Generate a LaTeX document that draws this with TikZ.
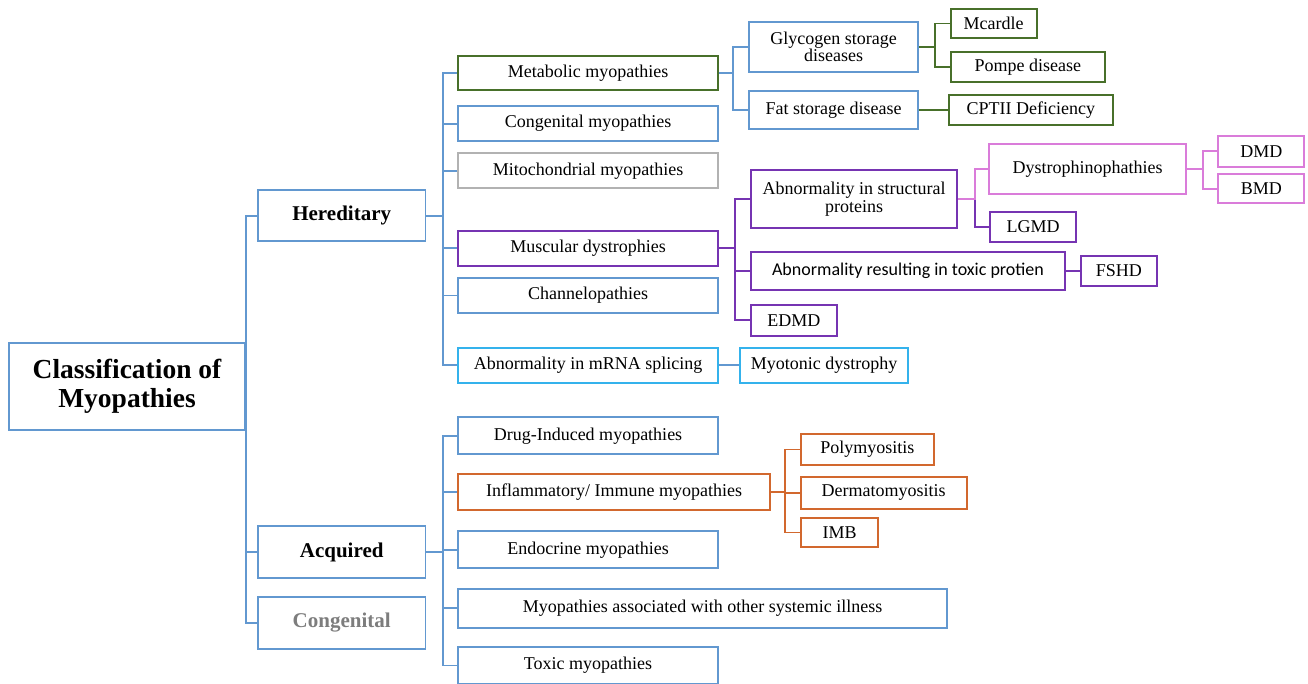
\documentclass[tikz,border=0pt]{standalone}
\usepackage{fontspec}
\setmainfont{Liberation Serif}
\newfontfamily\sansf{Carlito}
\definecolor{cblue}{RGB}{98,152,208}
\definecolor{cgreen}{RGB}{72,112,42}
\definecolor{cgray}{RGB}{178,178,178}
\definecolor{cpurple}{RGB}{118,52,178}
\definecolor{cpink}{RGB}{218,124,218}
\definecolor{ccyan}{RGB}{52,178,236}
\definecolor{corange}{RGB}{210,104,46}
\definecolor{ctgray}{RGB}{125,125,125}
\begin{document}
\begin{tikzpicture}[x=1pt,y=-1pt,
  bx/.style={draw, line width=1.9pt, inner sep=0pt, align=center, font=\fontsize{18}{17.5}\selectfont, text=black},
  bl/.style={draw=cblue},
  gr/.style={draw=cgreen},
  pu/.style={draw=cpurple},
  pk/.style={draw=cpink},
  cy/.style={draw=ccyan},
  og/.style={draw=corange},
  conn/.style={line width=1.9pt}]
\useasboundingbox (0,0) rectangle (1308,684);
\clip (0,0) rectangle (1308,684);
% level 0/1
\node[bx, bl, minimum width=236, minimum height=87, font=\fontsize{27.5}{28.5}\selectfont\bfseries] (root) at (127,386.5) {Classification of\\Myopathies};
\node[bx, bl, minimum width=167.5, minimum height=51.5, font=\fontsize{21}{22}\selectfont\bfseries] (her) at (341.7,215.7) {Hereditary};
\node[bx, bl, minimum width=167.5, minimum height=52, font=\fontsize{21}{22}\selectfont\bfseries] (acq) at (341.7,552) {Acquired};
\node[bx, bl, minimum width=167.5, minimum height=52, font=\fontsize{21}{22}\selectfont\bfseries, text=ctgray] (cong) at (341.7,623) {Congenital};
% hereditary children
\node[bx, gr, minimum width=260, minimum height=34] (met) at (588,73) {Metabolic myopathies};
\node[bx, bl, minimum width=260, minimum height=35] (cgm) at (588,123.7) {Congenital myopathies};
\node[bx, draw=cgray, minimum width=260, minimum height=35] (mit) at (588,170.8) {Mitochondrial myopathies};
\node[bx, pu, minimum width=260, minimum height=35.3] (mus) at (588,248.3) {Muscular dystrophies};
\node[bx, bl, minimum width=260, minimum height=35] (chan) at (588,295.5) {Channelopathies};
\node[bx, cy, minimum width=260, minimum height=35.3] (mrna) at (588,365.3) {Abnormality in mRNA splicing};
\node[bx, cy, minimum width=168, minimum height=35.3] (myo) at (824,365.3) {Myotonic dystrophy};
% metabolic
\node[bx, bl, minimum width=168.7, minimum height=50] (gly) at (833.7,46.7) {Glycogen storage\\diseases};
\node[bx, bl, minimum width=168.7, minimum height=38.6] (fat) at (833.7,110) {Fat storage disease};
\node[bx, gr, minimum width=86, minimum height=29.6] (mca) at (993.7,23.5) {Mcardle};
\node[bx, gr, minimum width=154.3, minimum height=30.3] (pom) at (1027.8,66.8) {Pompe disease};
\node[bx, gr, minimum width=163.7, minimum height=30.3] (cpt) at (1030.8,110) {CPTII Deficiency};
% muscular dystrophies
\node[bx, pu, minimum width=206.3, minimum height=58.3, font=\fontsize{18}{18.4}\selectfont] (asp) at (854.2,199.2) {Abnormality in structural\\proteins};
\node[bx, pu, minimum width=314, minimum height=37.7, font=\fontsize{18}{20}\sansf] (atp) at (908,271) {Abnormality resulting in toxic protien};
\node[bx, pu, minimum width=85.7, minimum height=30.7] (edmd) at (793.8,320.3) {EDMD};
\node[bx, pu, minimum width=75.7, minimum height=30.4] (fshd) at (1118.8,271) {FSHD};
\node[bx, pk, minimum width=196.4, minimum height=50.3] (dys) at (1087.5,169.2) {Dystrophinophathies};
\node[bx, pu, minimum width=86, minimum height=29.7] (lgmd) at (1033,226.8) {LGMD};
\node[bx, pk, minimum width=86, minimum height=30.7] (dmd) at (1261.3,151.3) {DMD};
\node[bx, pk, minimum width=86, minimum height=29.3] (bmd) at (1261.3,188.7) {BMD};
% acquired children
\node[bx, bl, minimum width=260, minimum height=37] (drug) at (588,435.8) {Drug-Induced myopathies};
\node[bx, og, minimum width=312, minimum height=36.3] (infl) at (614,492.2) {Inflammatory/ Immune myopathies};
\node[bx, bl, minimum width=260, minimum height=37.3] (endo) at (588,549.7) {Endocrine myopathies};
\node[bx, bl, minimum width=489.3, minimum height=38.7] (sys) at (702.7,608.3) {Myopathies associated with other systemic illness};
\node[bx, bl, minimum width=260, minimum height=37.7] (tox) at (588,665.5) {Toxic myopathies};
\node[bx, og, minimum width=133.3, minimum height=31] (poly) at (867.3,449.5) {Polymyositis};
\node[bx, og, minimum width=166, minimum height=32.3] (derm) at (883.7,492.8) {Dermatomyositis};
\node[bx, og, minimum width=77.6, minimum height=29.6] (imb) at (839.5,532.5) {IMB};
% connectors
\draw[conn, cblue] (root.east) |- (her.west);
\draw[conn, cblue] (root.east) |- (acq.west);
\draw[conn, cblue] (root.east) |- (cong.west);
\foreach \c in {met,cgm,mit,mus,chan,mrna}
  \draw[conn, cblue] (her.east) -- ++(16.5,0) |- (\c.west);
\draw[conn, cblue] (mrna.east) -- (myo.west);
\foreach \c in {gly,fat}
  \draw[conn, cblue] (met.east) -- ++(14.3,0) |- (\c.west);
\foreach \c in {mca,pom}
  \draw[conn, cgreen] (gly.east) -- ++(16,0) |- (\c.west);
\draw[conn, cgreen] (fat.east) -- (cpt.west);
\foreach \c in {asp,atp,edmd}
  \draw[conn, cpurple] (mus.east) -- ++(16.3,0) |- (\c.west);
\draw[conn, cpurple] (asp.east) -- ++(17,0) |- (lgmd.west);
\draw[conn, cpink] (asp.east) -- ++(17,0) |- (dys.west);
\foreach \c in {dmd,bmd}
  \draw[conn, cpink] (dys.east) -- ++(16.6,0) |- (\c.west);
\draw[conn, cpurple] (atp.east) -- (fshd.west);
\foreach \c in {drug,infl,endo,sys,tox}
  \draw[conn, cblue] (acq.east) -- ++(16.5,0) |- (\c.west);
\foreach \c in {poly,derm,imb}
  \draw[conn, corange] (infl.east) -- ++(14.3,0) |- (\c.west);
\end{tikzpicture}
\end{document}
